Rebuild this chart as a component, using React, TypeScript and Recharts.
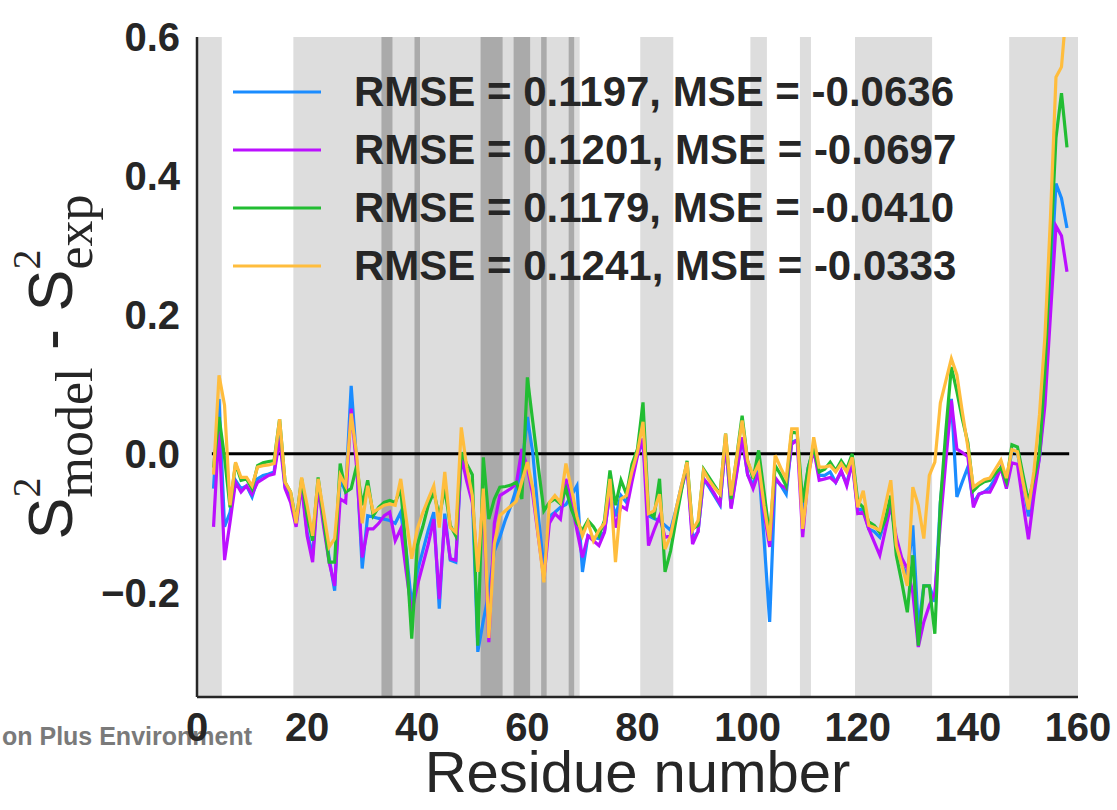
import React from 'react';
import { LineChart, Line, XAxis, YAxis, ReferenceArea, ReferenceLine, Legend, Label } from 'recharts';

const residues = [
  3, 4, 5, 6, 7, 8, 9, 10, 11, 12, 13, 14, 15, 16, 17, 18, 19, 20, 21, 22, 23, 24, 25, 26, 27, 28, 29, 30,
  31, 32, 33, 34, 35, 36, 37, 38, 39, 40, 41, 42, 43, 44, 45, 46, 47, 48, 49, 50, 51, 52, 53, 54, 55, 56, 57, 58,
  59, 60, 61, 62, 63, 64, 65, 66, 67, 68, 69, 70, 71, 72, 73, 74, 75, 76, 77, 78, 79, 80, 81, 82, 83, 84, 85, 86,
  87, 88, 89, 90, 91, 92, 93, 94, 95, 96, 97, 98, 99, 100, 101, 102, 103, 104, 105, 106, 107, 108, 109, 110, 111,
  112, 113, 114, 115, 116, 117, 118, 119, 120, 121, 122, 123, 124, 125, 126, 127, 128, 129, 130, 131, 132, 133,
  134, 135, 136, 137, 138, 139, 140, 141, 142, 143, 144, 145, 146, 147, 148, 149, 150, 151, 152, 153, 154, 155,
  156, 157, 158,
];

const blueValues = [
  -0.05, 0.079, -0.105, -0.084, -0.038, -0.05, -0.046, -0.062, -0.036, -0.031, -0.029, -0.026, 0.031, -0.048,
  -0.065, -0.1, -0.041, -0.113, -0.146, -0.041, -0.1, -0.15, -0.197, -0.036, -0.055, 0.098, -0.012, -0.165,
  -0.089, -0.091, -0.093, -0.094, -0.096, -0.1, -0.084, -0.14, -0.218, -0.17, -0.14, -0.11, -0.084, -0.223,
  -0.086, -0.153, -0.156, -0.005, -0.03, -0.06, -0.285, -0.24, -0.2, -0.14, -0.12, -0.095, -0.075, -0.05,
  -0.02, 0.053, 0.0, -0.09, -0.165, -0.09, -0.084, -0.077, -0.073, -0.06, -0.046, -0.17, -0.118, -0.12, -0.122,
  -0.112, -0.055, -0.09, -0.06, -0.07, -0.03, 0.0, 0.017, -0.089, -0.093, -0.096, -0.103, -0.11,
  -0.08, -0.045, -0.017, -0.122, -0.112, -0.036, -0.048, -0.061, -0.074, 0.019, -0.077, -0.026, 0.024, -0.03,
  -0.045, -0.017, -0.125, -0.242, -0.036, -0.045, -0.058, 0.017, 0.02, -0.08, -0.02,
  0.008, -0.031, -0.031, -0.026, -0.041, -0.026, -0.043, -0.01, -0.081, -0.079, -0.108, -0.112, -0.12, -0.095,
  -0.07, -0.127, -0.16, -0.175, -0.103, -0.252, -0.19, -0.19,
  -0.213, -0.07, 0.01, 0.079, -0.062, -0.04, -0.019, -0.071, -0.058, -0.055, -0.048, -0.035, -0.02, -0.045,
  0.005, 0.002, -0.04, -0.09, -0.05, -0.005, 0.09, 0.24,
  0.389, 0.368, 0.325,
];

const purpleValues = [
  -0.105, 0.038, -0.153, -0.098, -0.041, -0.055, -0.046, -0.058, -0.041, -0.036, -0.031, -0.029, 0.022, -0.05,
  -0.07, -0.105, -0.046, -0.118, -0.156, -0.046, -0.105, -0.156, -0.19, -0.065, -0.07, 0.065, -0.02, -0.149,
  -0.108, -0.108, -0.1, -0.089, -0.084, -0.125, -0.108, -0.17, -0.228, -0.19, -0.16, -0.13, -0.094, -0.209,
  -0.094, -0.151, -0.153, -0.003, -0.04, -0.07, -0.17, -0.07, -0.271, -0.1, -0.06, -0.055, -0.05, -0.043,
  0.007, -0.02, -0.06, -0.12, -0.18, -0.1, -0.086, -0.094, -0.036, -0.07, -0.11, -0.149, -0.118, -0.125, -0.132,
  -0.113, -0.055, -0.106, -0.075, -0.08, -0.04, -0.003, 0.022, -0.132, -0.11, -0.09, -0.12, -0.118,
  -0.085, -0.05, -0.02, -0.13, -0.112, -0.036, -0.045, -0.058, -0.072, 0.017, -0.079, -0.029, 0.024, -0.03,
  -0.05, -0.027, -0.085, -0.134, -0.034, -0.045, -0.05, 0.014, 0.02, -0.12, -0.03,
  0.007, -0.038, -0.036, -0.034, -0.041, -0.024, -0.046, -0.012, -0.086, -0.084, -0.108, -0.127, -0.146, -0.11,
  -0.074, -0.12, -0.15, -0.165, -0.2, -0.278, -0.242, -0.218,
  -0.2, -0.1, -0.01, 0.077, 0.007, 0.002, -0.004, -0.077, -0.058, -0.055, -0.055, -0.04, -0.02, -0.05,
  -0.013, -0.015, -0.07, -0.123, -0.06, -0.005, 0.07, 0.2,
  0.328, 0.314, 0.262,
];

const greenValues = [
  -0.02, 0.053, -0.005, -0.077, -0.014, -0.038, -0.036, -0.05, -0.017, -0.013, -0.011, -0.01, 0.05, -0.041,
  -0.055, -0.098, -0.036, -0.089, -0.125, -0.034, -0.094, -0.156, -0.156, -0.014, -0.055, -0.05, -0.017, -0.074,
  -0.038, -0.089, -0.077, -0.07, -0.067, -0.07, -0.05, -0.141, -0.266, -0.132, -0.105, -0.074, -0.055, -0.09,
  -0.05, -0.103, -0.118, 0.002, -0.015, -0.03, -0.276, -0.005, -0.094, -0.065, -0.048, -0.047, -0.045, -0.041,
  -0.065, 0.11, 0.045, -0.02, -0.082, -0.07, -0.065, -0.072, -0.05, -0.08, -0.1, -0.11, -0.096, -0.105, -0.118,
  -0.096, -0.024, -0.074, -0.038, -0.058, -0.015, 0.007, 0.074, -0.084, -0.091, -0.036, -0.17, -0.14,
  -0.095, -0.052, -0.01, -0.108, -0.103, -0.022, -0.034, -0.046, -0.058, 0.029, -0.065, -0.005, 0.055, -0.01,
  -0.036, 0.005, -0.056, -0.118, -0.017, -0.03, -0.046, 0.031, 0.03, -0.07, -0.02,
  0.01, -0.026, -0.022, -0.012, -0.024, -0.01, -0.022, 0.0, -0.069, -0.077, -0.098, -0.103, -0.113, -0.095,
  -0.06, -0.146, -0.185, -0.228, -0.146, -0.276, -0.19, -0.19,
  -0.259, -0.071, 0.033, 0.125, 0.09, 0.05, 0.016, -0.053, -0.045, -0.04, -0.038, -0.028, -0.02, -0.04,
  0.013, 0.01, -0.03, -0.069, -0.035, 0.0, 0.12, 0.29,
  0.455, 0.519, 0.441,
];

const yellowValues = [
  -0.03, 0.113, 0.07, -0.074, -0.012, -0.034, -0.034, -0.046, -0.019, -0.017, -0.016, -0.014, 0.05, -0.041,
  -0.055, -0.1, -0.034, -0.074, -0.118, -0.036, -0.084, -0.134, -0.122, -0.031, -0.046, 0.058, -0.002, -0.1,
  -0.046, -0.084, -0.079, -0.074, -0.072, -0.074, -0.036, -0.094, -0.151, -0.108, -0.085, -0.065, -0.046, -0.106,
  -0.026, -0.106, -0.113, 0.038, -0.02, -0.06, -0.17, -0.05, -0.265, -0.13, -0.089, -0.082, -0.075, -0.068,
  -0.04, -0.012, -0.05, -0.12, -0.185, -0.07, -0.06, -0.07, -0.014, -0.05, -0.09, -0.118, -0.098, -0.125, -0.11,
  -0.1, -0.036, -0.156, -0.065, -0.06, -0.025, 0.003, 0.046, -0.086, -0.082, -0.058, -0.137, -0.118,
  -0.08, -0.045, -0.012, -0.11, -0.096, -0.024, -0.038, -0.049, -0.058, 0.029, -0.06, -0.006, 0.048, -0.01,
  -0.031, -0.015, -0.075, -0.125, -0.002, -0.02, -0.036, 0.036, 0.036, -0.108, -0.04,
  0.024, -0.019, -0.019, -0.017, -0.026, -0.014, -0.026, -0.005, -0.077, -0.053, -0.103, -0.106, -0.11, -0.075,
  -0.038, -0.132, -0.16, -0.19, -0.048, -0.074, -0.122, -0.031,
  -0.012, 0.073, 0.105, 0.137, 0.114, 0.06, 0.01, -0.048, -0.042, -0.037, -0.035, -0.022, -0.009, -0.035,
  0.006, 0.003, -0.04, -0.08, -0.025, 0.056, 0.17, 0.34,
  0.542, 0.557, 0.65,
];

const seriesKeys = ['blue', 'purple', 'green', 'yellow'];
const seriesColors = ['#1a8cff', '#bb10ff', '#22bd32', '#ffbd3d'];
const legendLabels = [
  'RMSE = 0.1197, MSE = -0.0636',
  'RMSE = 0.1201, MSE = -0.0697',
  'RMSE = 0.1179, MSE = -0.0410',
  'RMSE = 0.1241, MSE = -0.0333',
];

const lightBands = [
  [0, 4.5], [17.5, 69.5], [80.5, 86.5], [100.5, 103.5], [109.5, 111.5], [119.5, 133.5], [147.5, 160],
];
const darkBands = [
  [33.5, 35.5], [39.5, 40.5], [51.5, 55.5], [57.5, 60.5], [62.5, 63.5], [67.5, 68.5],
];

const xTicks = [0, 20, 40, 60, 80, 100, 120, 140, 160];
const yTicks = [-0.2, 0, 0.2, 0.4, 0.6];
const zeroLineStart = 2.7;
const zeroLineEnd = 158.4;

const data = residues.map((r, i) => ({
  residue: r,
  blue: blueValues[i],
  purple: purpleValues[i],
  green: greenValues[i],
  yellow: yellowValues[i],
}));

const SANS = '"Liberation Sans", Arial, Helvetica, sans-serif';
const SERIF = '"Liberation Serif", "Times New Roman", serif';
const TEXT = '#262626';

const fmtY = (v: number) => (v < 0 ? '\u2212' + Math.abs(v).toFixed(1) : v.toFixed(1));

const XLabel = (props: any) => {
  const vb = props.viewBox || { x: 197, y: 697, width: 881, height: 113 };
  return (
    <text x={vb.x + vb.width / 2} y={vb.y + 95} textAnchor="middle" fontFamily={SANS} fontSize={58} fill={TEXT}>
      Residue number
    </text>
  );
};

const YLabel = (props: any) => {
  const vb = props.viewBox || { x: 0, y: 37, width: 197, height: 660 };
  const cx = 72;
  const cy = vb.y + vb.height / 2;
  return (
    <text
      transform={`translate(${cx},${cy}) rotate(-90)`}
      textAnchor="middle"
      fill={TEXT}
      style={{ whiteSpace: 'pre' }}
    >
      <tspan fontFamily={SANS} fontSize={63}>S</tspan>
      <tspan fontFamily={SERIF} fontSize={40} dy={-32}>2</tspan>
      <tspan fontFamily={SERIF} fontSize={52} dx={-20} dy={52}>model</tspan>
      <tspan fontFamily={SANS} fontSize={63} dy={-20}>{' - S'}</tspan>
      <tspan fontFamily={SERIF} fontSize={40} dy={-32}>2</tspan>
      <tspan fontFamily={SERIF} fontSize={52} dx={-20} dy={52}>exp</tspan>
    </text>
  );
};

const LegendContent = () => (
  <div style={{ fontFamily: SANS, fontWeight: 'bold', fontSize: 42, color: TEXT }}>
    {legendLabels.map((label, i) => (
      <div key={label} style={{ height: 58, display: 'flex', alignItems: 'center', whiteSpace: 'nowrap' }}>
        <svg width={88} height={6} style={{ display: 'block' }}>
          <line x1={0} y1={3} x2={88} y2={3} stroke={seriesColors[i]} strokeWidth={3} />
        </svg>
        <span style={{ marginLeft: 33, lineHeight: '58px' }}>{label}</span>
      </div>
    ))}
  </div>
);

export default function App() {
  return (
    <div style={{ position: 'absolute', left: 0, top: 0, width: 1117, height: 810, background: '#ffffff', overflow: 'hidden' }}>
      <div
        style={{
          position: 'absolute',
          left: 0,
          top: 722,
          width: 252,
          textAlign: 'right',
          fontFamily: SANS,
          fontWeight: 'bold',
          fontSize: 25,
          color: '#7a7a7a',
          whiteSpace: 'nowrap',
        }}
      >
        on Plus Environment
      </div>
      <div style={{ position: 'absolute', left: 0, top: 0 }}>
        <LineChart width={1117} height={810} data={data} margin={{ top: 37, right: 39, bottom: 0, left: 0 }}>
          {lightBands.map(([a, b], i) => (
            <ReferenceArea key={'l' + i} x1={a} x2={b} fill="#dddddd" fillOpacity={1} stroke="none" ifOverflow="hidden" />
          ))}
          {darkBands.map(([a, b], i) => (
            <ReferenceArea key={'d' + i} x1={a} x2={b} fill="#aaaaaa" fillOpacity={1} stroke="none" ifOverflow="hidden" />
          ))}
          <XAxis
            dataKey="residue"
            type="number"
            domain={[0, 160]}
            ticks={xTicks}
            interval={0}
            allowDataOverflow
            height={113}
            tickLine={false}
            tickSize={0}
            tickMargin={16}
            axisLine={{ stroke: TEXT, strokeWidth: 2.5 }}
            tick={{ fill: TEXT, fontSize: 40, fontWeight: 'bold', fontFamily: SANS }}
          >
            <Label content={XLabel} />
          </XAxis>
          <YAxis
            type="number"
            domain={[-0.35, 0.6]}
            ticks={yTicks}
            interval={0}
            allowDataOverflow
            width={197}
            tickLine={false}
            tickSize={0}
            tickMargin={17}
            tickFormatter={fmtY}
            axisLine={{ stroke: TEXT, strokeWidth: 2.5 }}
            tick={{ fill: TEXT, fontSize: 40, fontWeight: 'bold', fontFamily: SANS }}
          >
            <Label content={YLabel} />
          </YAxis>
          <ReferenceLine
            segment={[{ x: zeroLineStart, y: 0 }, { x: zeroLineEnd, y: 0 }]}
            stroke="#000000"
            strokeWidth={3}
          />
          {seriesKeys.map((k, i) => (
            <Line
              key={k}
              type="linear"
              dataKey={k}
              stroke={seriesColors[i]}
              strokeWidth={3.2}
              dot={false}
              activeDot={false}
              isAnimationActive={false}
            />
          ))}
          <Legend
            layout="vertical"
            align="center"
            verticalAlign="middle"
            wrapperStyle={{ left: 233, top: 63, width: 800, height: 232 }}
            content={LegendContent}
          />
        </LineChart>
      </div>
    </div>
  );
}
